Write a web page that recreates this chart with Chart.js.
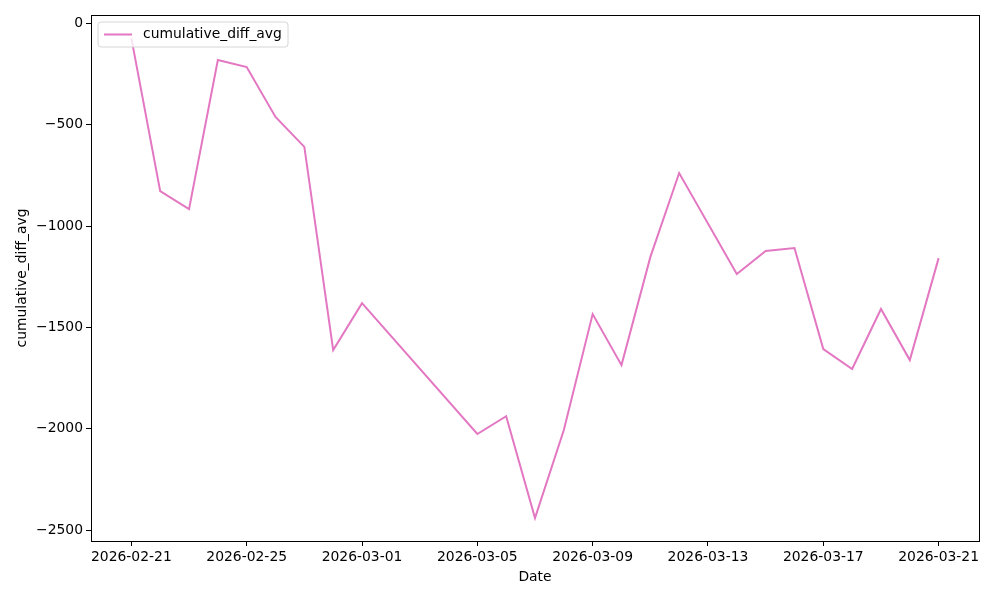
<!DOCTYPE html>
<html>
<head>
<meta charset="utf-8">
<script src="https://cdn.jsdelivr.net/npm/chart.js@4"></script>
<style>
  html, body { margin: 0; padding: 0; background: #fff; }
  #wrap { width: 1000px; height: 600px; }
</style>
</head>
<body>
<div id="wrap"><canvas id="c" width="1000" height="600"></canvas></div>
<script>
const dates = [
  "2026-02-21", "2026-02-22", "2026-02-23", "2026-02-24", "2026-02-25",
  "2026-02-26", "2026-02-27", "2026-02-28", "2026-03-01", "2026-03-02",
  "2026-03-03", "2026-03-04", "2026-03-05", "2026-03-06", "2026-03-07",
  "2026-03-08", "2026-03-09", "2026-03-10", "2026-03-11", "2026-03-12",
  "2026-03-13", "2026-03-14", "2026-03-15", "2026-03-16", "2026-03-17",
  "2026-03-18", "2026-03-19", "2026-03-20", "2026-03-21"
];
// null = no row for that day
const cumulativeDiffAvg = [
  -72, -827, -916, -180, -215,
  -461, -609, -1612, -1380, null,
  null, null, -2026, -1938, -2441,
  -2006, -1434, -1686, -1153, -738,
  null, -1236, -1123, -1108, -1607,
  -1705, -1409, -1661, -1158
];
const xTickIdx = [0, 4, 8, 12, 16, 20, 24, 28];
const yTicks = [0, -500, -1000, -1500, -2000, -2500];

const FONT = "DejaVu Sans";
const FS = 13.9;
const PINK = "#e377c2";

const points = [];
cumulativeDiffAvg.forEach((v, i) => {
  if (v !== null) points.push({ x: i, y: v });
});

const frame = {
  id: "frame",
  afterDraw(chart) {
    const ctx = chart.ctx, a = chart.chartArea;
    ctx.save();
    ctx.strokeStyle = "#000";
    ctx.lineWidth = 1;
    ctx.strokeRect(Math.round(a.left) + 0.5, Math.round(a.top) + 0.5,
      Math.round(a.right - a.left), Math.round(a.bottom - a.top));

    // legend box, upper left inside the axes
    const bx = 98, by = 22, bw = 190, bh = 25, r = 3;
    ctx.beginPath();
    ctx.moveTo(bx + r, by);
    ctx.arcTo(bx + bw, by, bx + bw, by + bh, r);
    ctx.arcTo(bx + bw, by + bh, bx, by + bh, r);
    ctx.arcTo(bx, by + bh, bx, by, r);
    ctx.arcTo(bx, by, bx + bw, by, r);
    ctx.closePath();
    ctx.fillStyle = "rgba(255,255,255,0.8)";
    ctx.fill();
    ctx.strokeStyle = "#d6d6d6";
    ctx.lineWidth = 1;
    ctx.stroke();

    ctx.beginPath();
    ctx.moveTo(104, 34.5);
    ctx.lineTo(132, 34.5);
    ctx.strokeStyle = PINK;
    ctx.lineWidth = 2;
    ctx.stroke();

    ctx.fillStyle = "#000";
    ctx.font = FS + "px '" + FONT + "'";
    ctx.textBaseline = "middle";
    ctx.textAlign = "left";
    ctx.fillText(chart.data.datasets[0].label, 143, 34.5);
    ctx.restore();
  }
};

new Chart(document.getElementById("c"), {
  type: "line",
  data: {
    datasets: [{
      label: "cumulative_diff_avg",
      data: points,
      borderColor: PINK,
      backgroundColor: PINK,
      borderWidth: 2,
      pointRadius: 0,
      tension: 0,
      fill: false
    }]
  },
  options: {
    responsive: false,
    animation: false,
    devicePixelRatio: 1,
    layout: { padding: { top: 15, right: 21, left: 0, bottom: 0 } },
    plugins: {
      legend: { display: false },
      tooltip: { enabled: false }
    },
    scales: {
      x: {
        type: "linear",
        min: -1.4,
        max: 29.4,
        afterBuildTicks: axis => { axis.ticks = xTickIdx.map(v => ({ value: v })); },
        afterFit: axis => { axis.height = 59; },
        border: { display: false },
        grid: { drawOnChartArea: false, color: "#000", tickLength: 5, lineWidth: 1 },
        ticks: {
          color: "#000",
          font: { family: FONT, size: FS },
          padding: 3,
          maxRotation: 0,
          autoSkip: false,
          callback: v => dates[v]
        },
        title: {
          display: true,
          text: "Date",
          color: "#000",
          font: { family: FONT, size: FS },
          padding: { top: 0, bottom: 14 }
        }
      },
      y: {
        min: -2554,
        max: 42,
        afterBuildTicks: axis => { axis.ticks = yTicks.map(v => ({ value: v })); },
        afterFit: axis => { axis.width = 91; },
        border: { display: false },
        grid: { drawOnChartArea: false, color: "#000", tickLength: 5, lineWidth: 1 },
        ticks: {
          color: "#000",
          font: { family: FONT, size: FS },
          padding: 3,
          callback: v => (v < 0 ? "\u2212" + Math.abs(v) : String(v))
        },
        title: {
          display: true,
          text: "cumulative_diff_avg",
          color: "#000",
          font: { family: FONT, size: FS },
          padding: { top: 14, bottom: 0 }
        }
      }
    }
  },
  plugins: [frame]
});
</script>
</body>
</html>
